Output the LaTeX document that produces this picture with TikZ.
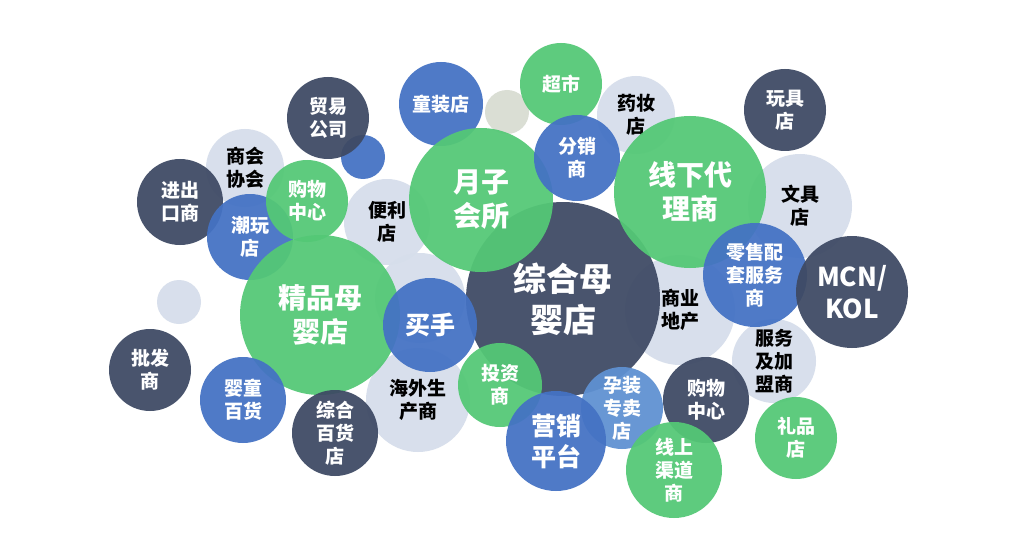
\documentclass[tikz,border=0pt]{standalone}
\usepackage{fontspec}
\setmainfont{Noto Sans CJK SC}
\definecolor{navy}{RGB}{62,74,100}
\definecolor{cblue}{RGB}{68,114,196}
\definecolor{cgreen}{RGB}{84,200,118}
\definecolor{clight}{RGB}{214,222,235}
\definecolor{clblue}{RGB}{95,145,210}
\definecolor{cgray}{RGB}{216,220,210}
\tikzset{
  bub/.style={circle, inner sep=0pt, align=center, fill opacity=0.94, text opacity=1},
  nv/.style={bub, fill=navy, text=white},
  bl/.style={bub, fill=cblue, text=white},
  gr/.style={bub, fill=cgreen, text=white},
  lt/.style={bub, fill=clight, text=black},
  lb/.style={bub, fill=clblue, text=white},
  gy/.style={bub, fill=cgray},
  sm/.style={font=\fontsize{19}{23}\selectfont\bfseries},
  md/.style={font=\fontsize{25}{31}\selectfont\bfseries},
  lg/.style={font=\fontsize{28}{34}\selectfont\bfseries},
  xl/.style={font=\fontsize{33}{41}\selectfont\bfseries}
}
\begin{document}
\begin{tikzpicture}[x=1pt,y=-1pt]
\fill[white] (0,0) rectangle (1024,548);
\useasboundingbox (0,0) rectangle (1024,548);
% light circles
\node[lt, sm, minimum size=78] (shanghui) at (245,168) {商会\\协会};
\node[lt, sm, minimum size=86] (bianli) at (387,222) {便利\\店};
\node[lt, minimum size=90] (ltback) at (420,298) {};
\node[lt, sm, minimum size=104] (haiwai) at (418,400) {海外生\\产商};
\node[lt, sm, minimum size=110] (shangye) at (680,310) {商业\\地产};
\node[lt, sm, minimum size=104] (wenju) at (800,206) {文具\\店};
\node[lt, sm, minimum size=84] (fuwu) at (774,361) {服务\\及加\\盟商};
\node[lt, sm, minimum size=78] (yaozhuang) at (636,115) {药妆\\店};
\node[lt, minimum size=44] (ltsmall) at (179,302) {};
\node[gy, minimum size=44] (gysmall) at (507,112) {};
% colored circles
\node[nv, sm, minimum size=86] (jinchu) at (180,202) {进出\\口商};
\node[bl, sm, minimum size=86] (chaowan) at (250,237) {潮玩\\店};
\node[bl, minimum size=44] (blsmall) at (363,157) {};
\node[nv, sm, minimum size=82] (maoyi) at (328,118) {贸易\\公司};
\node[bl, sm, minimum size=84] (tongzhuang) at (441,104) {童装店};
\node[gr, sm, minimum size=82] (chaoshi) at (561,84) {超市};
\node[nv, xl, minimum size=194] (zonghe) at (563,299) {综合母\\婴店};
\node[gr, lg, minimum size=144] (yuezi) at (481,200) {月子\\会所};
\node[bl, sm, minimum size=86] (fenxiao) at (577,158) {分销\\商};
\node[gr, lg, minimum size=152] (xianxia) at (690,192) {线下代\\理商};
\node[gr, sm, minimum size=82] (gouwu1) at (307,201) {购物\\中心};
\node[gr, lg, minimum size=160] (jingpin) at (320,315) {精品母\\婴店};
\node[bl, md, minimum size=94] (maishou) at (430,325) {买手};
\node[nv, sm, minimum size=82] (wanju) at (785,110) {玩具\\店};
\node[bl, sm, minimum size=104] (lingshou) at (755,275) {零售配\\套服务\\商};
\node[nv, font=\fontsize{26}{32}\selectfont\bfseries, minimum size=112] (mcn) at (852,292) {MCN/\\KOL};
\node[nv, sm, minimum size=82] (pifa) at (150,370) {批发\\商};
\node[bl, sm, minimum size=86] (yingtong) at (243,400) {婴童\\百货};
\node[nv, sm, minimum size=86] (baihuo) at (335,433) {综合\\百货\\店};
\node[gr, sm, minimum size=84] (touzi) at (500,385) {投资\\商};
\node[lb, sm, minimum size=82] (yunzhuang) at (622,408) {孕装\\专卖\\店};
\node[bl, md, minimum size=100] (yingxiao) at (556,441) {营销\\平台};
\node[nv, sm, minimum size=86] (gouwu2) at (706,400) {购物\\中心};
\node[gr, sm, minimum size=96] (xianshang) at (674,470) {线上\\渠道\\商};
\node[gr, sm, minimum size=82] (lipin) at (796,438) {礼品\\店};
\end{tikzpicture}
\end{document}
